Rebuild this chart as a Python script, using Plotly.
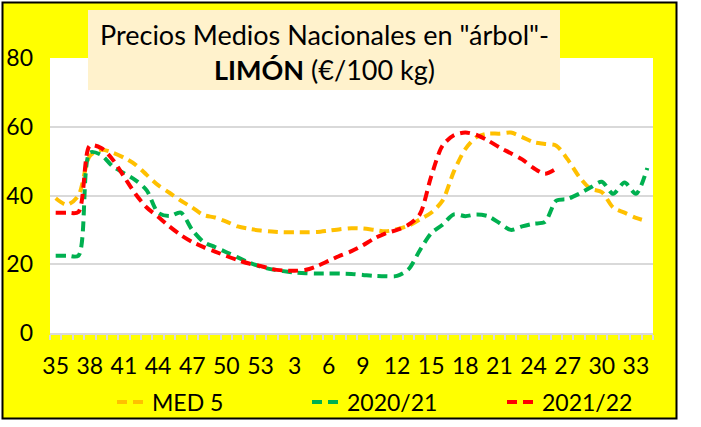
import plotly.graph_objects as go

weeks = list(range(35, 54)) + list(range(1, 35))
tick_weeks = [35, 38, 41, 44, 47, 50, 53, 3, 6, 9, 12, 15, 18, 21, 24, 27, 30, 33]

med5 = [39.2, 37.3, 40, 51.5, 53.3, 52.5, 51, 49, 46, 43, 40.8, 38.5, 36.5, 34.3, 33.6, 32.4, 31, 30.3, 29.8,
        29.5, 29.3, 29.3, 29.3, 29.4, 29.8, 30.2, 30.5, 30.4, 30, 29.6, 30.2, 31.2, 33, 35, 38.5, 47, 53.5,
        57, 58, 58, 58.3, 57, 55.5, 55, 54.5, 50.5, 45.5, 42, 41, 36.5, 35, 33.5, 32.5]
s2020 = [22.5, 22.5, 22.5, 52.5, 51.8, 48.5, 46.5, 44.5, 41.5, 35, 34, 35, 30, 26.5, 25, 23.5, 22, 20.5, 19.3,
         18.5, 18, 17.6, 17.4, 17.3, 17.3, 17.3, 17.2, 16.9, 16.6, 16.5, 16.6, 18.5, 24, 29, 31.5, 34.5, 34,
         34.5, 34, 32, 30, 31, 31.8, 32.3, 38.5, 39, 40.5, 42.3, 44, 40.5, 43.8, 40.5, 48]
s2021 = [35, 35, 35.2, 54.5, 53.8, 50.5, 45.5, 40.5, 36.5, 33.8, 31, 28.5, 26.5, 25, 23.7, 22.4, 21.2, 20.2, 19.5,
         18.6, 18.2, 18.1, 18.4, 19.5, 21, 22.5, 23.8, 25.5, 27.5, 29, 30, 31.5, 34.5, 45.5, 54.5, 57.5, 58.3,
         57.6, 56, 54, 52.3, 50.5, 48, 46.3, 47.8]

series_names = ["MED 5", "2020/21", "2021/22"]
series_colors = ["#FFC000", "#00B050", "#FF0000"]
title_line1 = "Precios Medios Nacionales en \"árbol\"-"
title_line2 = "<b>LIMÓN</b> (€/100 kg)"

cats = [str(w) for w in weeks]
FONT = "Lato"

fig = go.Figure()
for name, vals, col in zip(series_names, [med5, s2020, s2021], series_colors):
    fig.add_trace(go.Scatter(
        x=cats[:len(vals)], y=vals, name=name, mode="lines",
        line=dict(color=col, width=4, dash="10px,6px", shape="spline", smoothing=0.8),
    ))

W, H = 701, 427
L, R, T, B = 50, 653, 58, 333
pw, ph = R - L, B - T
def px(x):
    return (x - L) / pw
def py(y):
    return (B - y) / ph

shapes = [
    dict(type="rect", xref="paper", yref="paper", x0=px(2.5), x1=px(676.5), y0=py(418.5), y1=py(2.5),
         fillcolor="#FFFF00", line=dict(color="black", width=2), layer="below"),
    dict(type="rect", xref="paper", yref="paper", x0=0, x1=1, y0=0, y1=1,
         fillcolor="white", line=dict(width=0), layer="below"),
    dict(type="rect", xref="paper", yref="paper", x0=px(88), x1=px(560), y0=py(90), y1=py(10),
         fillcolor="#FFF2CC", line=dict(width=0), layer="above"),
]

fig.update_layout(
    width=W, height=H,
    margin=dict(l=L, r=W - R, t=T, b=H - B, autoexpand=False),
    paper_bgcolor="white", plot_bgcolor="white",
    font=dict(family=FONT, size=23, color="black"),
    shapes=shapes,
    showlegend=True,
    legend=dict(orientation="h", x=px(112), xanchor="left", y=py(402), yanchor="middle",
                font=dict(size=23, family=FONT), bgcolor="rgba(0,0,0,0)",
                entrywidth=150, entrywidthmode="pixels", itemwidth=30),
    annotations=[
        dict(xref="paper", yref="paper", x=px(324), y=py(34), xanchor="center", yanchor="middle",
             text=title_line1, showarrow=False, font=dict(size=27, family=FONT, color="black")),
        dict(xref="paper", yref="paper", x=px(324), y=py(70), xanchor="center", yanchor="middle",
             text=title_line2, showarrow=False, font=dict(size=27, family=FONT, color="black")),
    ],
)

fig.update_xaxes(
    type="category", categoryorder="array", categoryarray=cats,
    tickvals=cats, ticktext=[c if int(c) in tick_weeks else "" for c in cats],
    tickson="boundaries", ticks="outside", ticklen=5, tickcolor="#D9D9D9", tickwidth=1.5,
    ticklabelstandoff=12, tickangle=0,
    showline=True, linecolor="#D9D9D9", linewidth=1.5, showgrid=False,
    range=[-0.5, len(cats) - 0.5], tickfont=dict(size=23, family=FONT),
)
fig.update_yaxes(
    range=[0, 80], dtick=20, showgrid=True, gridcolor="#D9D9D9", gridwidth=1.5,
    zeroline=False, ticks="", ticklabelstandoff=16, tickfont=dict(size=23, family=FONT),
)

fig.write_html("out.html", config={"displayModeBar": False},
               post_script="document.body.style.margin='0';")
